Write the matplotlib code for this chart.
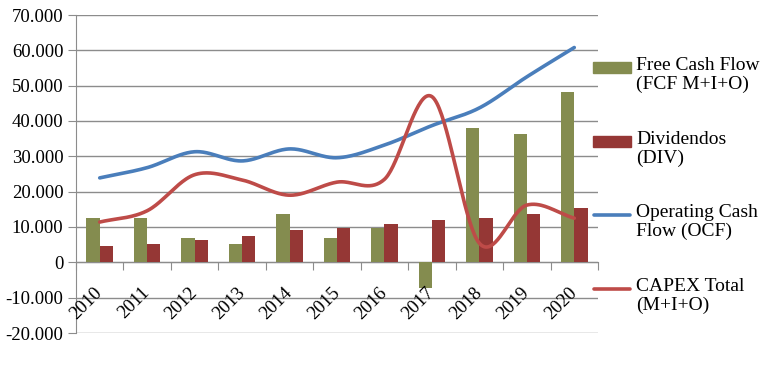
import numpy as np
import matplotlib.pyplot as plt
from matplotlib.patches import Rectangle
from matplotlib.lines import Line2D

years = ["2010", "2011", "2012", "2013", "2014", "2015", "2016", "2017", "2018", "2019", "2020"]
fcf = [12500, 12500, 6800, 5100, 13600, 6800, 9600, -7400, 38000, 36300, 48300]
div = [4500, 5100, 6200, 7400, 9100, 9600, 10800, 11900, 12500, 13600, 15300]
ocf = [23900, 26800, 31300, 28700, 32100, 29600, 33200, 38700, 43700, 52500, 60800]
capex = [11400, 14600, 24800, 23300, 19000, 22700, 23500, 46900, 5400, 16200, 12500]

legend_labels = ["Free Cash Flow\n(FCF M+I+O)", "Dividendos\n(DIV)",
                 "Operating Cash\nFlow (OCF)", "CAPEX Total\n(M+I+O)"]

olive = "#848c4f"
darkred = "#953735"
blue = "#4a7ebb"
red = "#be4b48"
grid = "#8c8c8c"


def smooth(x, y, n=40):
    # catmull-rom, roughly what the spreadsheet "smoothed line" does
    x = np.asarray(x, float)
    y = np.asarray(y, float)
    px = np.concatenate([[2 * x[0] - x[1]], x, [2 * x[-1] - x[-2]]])
    py = np.concatenate([[2 * y[0] - y[1]], y, [2 * y[-1] - y[-2]]])
    t = np.linspace(0, 1, n)
    xs, ys = [], []
    for i in range(1, len(px) - 2):
        for p, out in ((px, xs), (py, ys)):
            p0, p1, p2, p3 = p[i - 1], p[i], p[i + 1], p[i + 2]
            out.extend(0.5 * (2 * p1 + (-p0 + p2) * t + (2 * p0 - 5 * p1 + 4 * p2 - p3) * t ** 2
                              + (-p0 + 3 * p1 - 3 * p2 + p3) * t ** 3))
    return np.array(xs), np.array(ys)


plt.rcParams["font.family"] = ["Liberation Serif", "DejaVu Serif"]
plt.rcParams["font.size"] = 13.5

fig = plt.figure(figsize=(7.74, 3.72), dpi=100)
W, H = 774, 372
ax = fig.add_axes([76 / W, 1 - 333 / H, (598 - 76) / W, (333 - 15) / H])

x = np.arange(len(years))
bw = 0.28
ax.bar(x - bw / 2, fcf, bw, color=olive, zorder=3)
ax.bar(x + bw / 2, div, bw, color=darkred, zorder=3)
sx, sy = smooth(x, ocf)
ax.plot(sx, sy, color=blue, lw=2.6, zorder=4, solid_capstyle="round")
sx, sy = smooth(x, capex)
ax.plot(sx, sy, color=red, lw=2.6, zorder=4, solid_capstyle="round")

ax.set_xlim(-0.5, len(years) - 0.5)
ax.set_ylim(-20000, 70000)
yt = np.arange(-20000, 70001, 10000)
ax.set_yticks(yt)
ax.set_yticklabels(["0" if v == 0 else f"{v / 1000:.3f}" for v in yt])
# gridlines drawn as plain lines so the axis (and its labels) can sit on top of the bars
for v in yt:
    ax.axhline(v, color=grid, lw=1, zorder=0.5)
ax.set_axisbelow(False)
ax.xaxis.set_zorder(5)
ax.yaxis.set_zorder(5)
ax.tick_params(axis="y", length=6, color=grid, pad=3)

for s in ("top", "right"):
    ax.spines[s].set_visible(False)
ax.spines["bottom"].set_position(("data", 0))
ax.spines["bottom"].set_color(grid)
ax.spines["left"].set_color(grid)

ax.set_xticks(np.arange(-0.5, len(years), 1))
ax.set_xticklabels([])
ax.tick_params(axis="x", which="major", length=6, color=grid)
ax.set_xticks(x, minor=True)
ax.set_xticklabels(years, minor=True, rotation=45, ha="right", va="center",
                   rotation_mode="anchor")
ax.tick_params(axis="x", which="minor", length=0, pad=20)

# legend drawn by hand so the key sits beside the first text line
entries = [("patch", olive, 57), ("patch", darkred, 131), ("line", blue, 204), ("line", red, 278)]
for (kind, col, top), lab in zip(entries, legend_labels):
    yc = 1 - (top + 11) / H
    if kind == "patch":
        fig.add_artist(Rectangle((593 / W, yc - 5 / H), 38 / W, 11 / H,
                                 transform=fig.transFigure, color=col))
    else:
        fig.add_artist(Line2D([594 / W, 630 / W], [yc, yc], transform=fig.transFigure,
                              color=col, lw=2.6, solid_capstyle="round"))
    fig.text(636 / W, 1 - top / H, lab, va="top", ha="left", fontsize=14, linespacing=1.15)

fig.savefig("out.png", dpi=100)
